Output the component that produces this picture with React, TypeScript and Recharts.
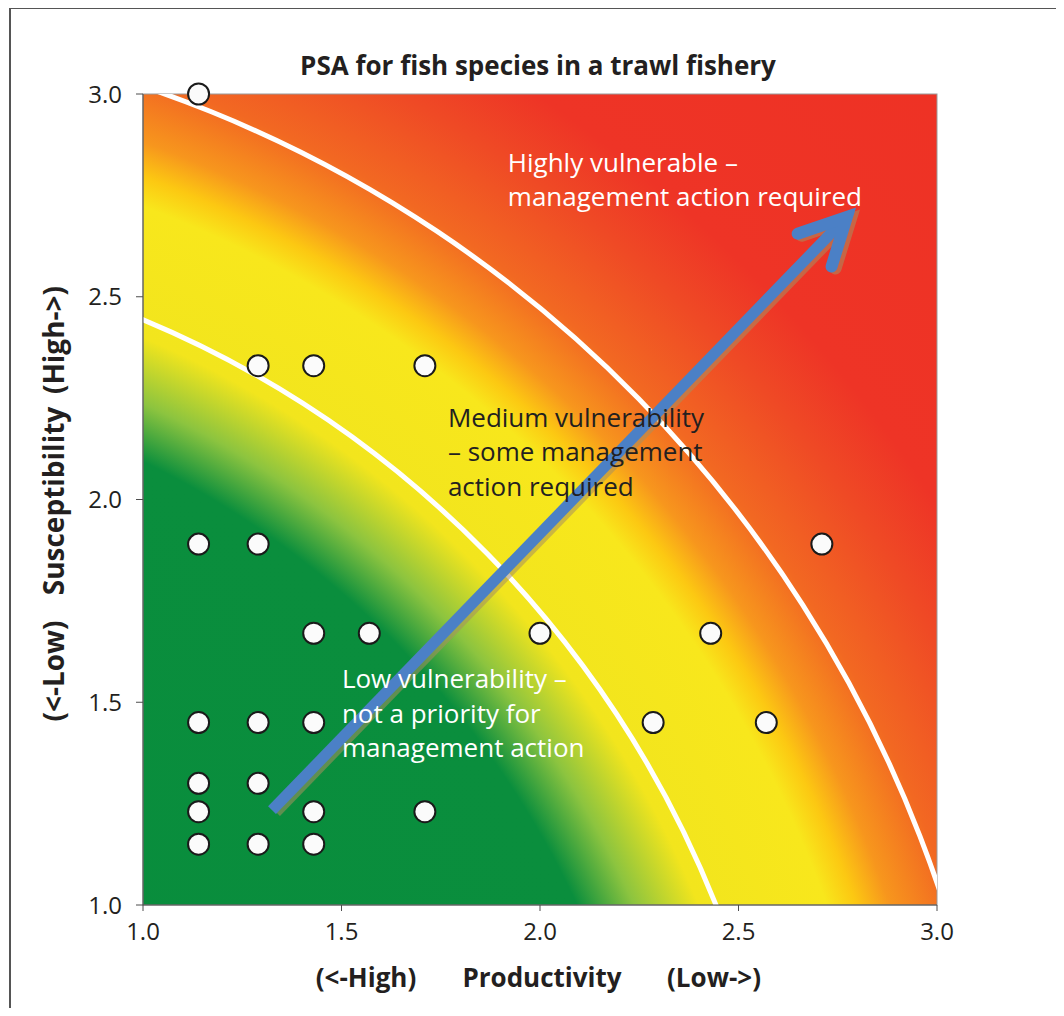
import React from "react";
import {
  ReferenceArea,
  ReferenceDot,
  ReferenceLine,
  Scatter,
  ScatterChart,
  XAxis,
  YAxis,
} from "recharts";

// species scores
const productivity = [
  1.14, 1.29, 1.43, 1.71, 1.14, 1.29, 2.71, 1.43, 1.57, 2.0, 2.43, 1.14,
  1.29, 1.43, 2.285, 2.57, 1.14, 1.29, 1.14, 1.43, 1.71, 1.14, 1.29, 1.43,
];
const susceptibility = [
  3.0, 2.33, 2.33, 2.33, 1.89, 1.89, 1.89, 1.67, 1.67, 1.67, 1.67, 1.45,
  1.45, 1.45, 1.45, 1.45, 1.3, 1.3, 1.23, 1.23, 1.23, 1.15, 1.15, 1.15,
];
const axisTicks = [1.0, 1.5, 2.0, 2.5, 3.0];
const domain: [number, number] = [1, 3];
// vulnerability = distance from the (0,0) origin; low/medium and medium/high cut-offs
const vulnerabilityThresholds = [2.64, 3.18];
// colour ramp by vulnerability score
const rampMax = 4.5;
const colourRamp = [
  { v: 0, c: "#078c3c" },
  { v: 2.32, c: "#0a8e3d" },
  { v: 2.45, c: "#8cc43f" },
  { v: 2.6, c: "#f2e51d" },
  { v: 2.9, c: "#f8e71c" },
  { v: 2.97, c: "#fcc812" },
  { v: 3.05, c: "#f7961d" },
  { v: 3.2, c: "#f26822" },
  { v: 3.42, c: "#ef4a25" },
  { v: 3.6, c: "#ee3426" },
  { v: 4.5, c: "#ee3124" },
];
// trend arrow start / end
const arrowFrom = { x: 1.325, y: 1.234 };
const arrowTo = { x: 2.773, y: 2.697 };

const zoneLabels = [
  { x: 1.919, y: 2.808, color: "#ffffff", lines: ["Highly vulnerable –", "management action required"] },
  { x: 1.768, y: 2.179, color: "#231f20", lines: ["Medium vulnerability", "– some management", "action required"] },
  { x: 1.501, y: 1.535, color: "#ffffff", lines: ["Low vulnerability –", "not a priority for", "management action"] },
];

const points = productivity.map((p, i) => ({ p, s: susceptibility[i] }));

const FONT = "'Open Sans', Lato, sans-serif";

function Background(props: any) {
  const { x, y, width, height } = props;
  const span = domain[1] - domain[0];
  const sx = width / span;
  const sy = height / span;
  // pixel position of score origin (0,0)
  const ox = x - domain[0] * sx;
  const oy = y + height + domain[0] * sy;
  return (
    <g>
      <defs>
        <radialGradient
          id="psaGrad"
          cx={-domain[0] / span}
          cy={1 + domain[0] / span}
          fx={-domain[0] / span}
          fy={1 + domain[0] / span}
          r={rampMax / span}
        >
          {colourRamp.map((s) => (
            <stop key={s.v} offset={s.v / rampMax} stopColor={s.c} />
          ))}
        </radialGradient>
        <clipPath id="psaClip">
          <rect x={x} y={y} width={width} height={height} />
        </clipPath>
      </defs>
      <rect x={x} y={y} width={width} height={height} fill="url(#psaGrad)" stroke="#9a9a9a" strokeWidth={1} />
      <g clipPath="url(#psaClip)">
        {vulnerabilityThresholds.map((t) => {
          const rx = t * sx;
          const ry = t * sy;
          return (
            <path
              key={t}
              d={`M ${ox} ${oy - ry} A ${rx} ${ry} 0 0 1 ${ox + rx} ${oy}`}
              fill="none"
              stroke="#ffffff"
              strokeWidth={5}
            />
          );
        })}
      </g>
    </g>
  );
}

function Arrow(props: any) {
  const { x1, y1, x2, y2 } = props;
  if (x1 == null || x2 == null) return null;
  const dx = x2 - x1;
  const dy = y2 - y1;
  const len = Math.hypot(dx, dy);
  const ux = dx / len;
  const uy = dy / len;
  const head = 52;
  const a = (27 * Math.PI) / 180;
  const bx = -ux;
  const by = -uy;
  const l1x = x2 + head * (bx * Math.cos(a) - by * Math.sin(a));
  const l1y = y2 + head * (bx * Math.sin(a) + by * Math.cos(a));
  const l2x = x2 + head * (bx * Math.cos(-a) - by * Math.sin(-a));
  const l2y = y2 + head * (bx * Math.sin(-a) + by * Math.cos(-a));
  const draw = (color: string, ox: number, oy: number, op: number) => (
    <g transform={`translate(${ox},${oy})`} opacity={op}>
      <line x1={x1} y1={y1} x2={x2 - ux * 6} y2={y2 - uy * 6} stroke={color} strokeWidth={11} />
      <polyline
        points={`${l1x},${l1y} ${x2},${y2} ${l2x},${l2y}`}
        fill="none"
        stroke={color}
        strokeWidth={12}
        strokeLinejoin="miter"
        strokeLinecap="round"
      />
    </g>
  );
  return (
    <g>
      {draw("#a89060", 4, 2, 0.55)}
      {draw("#4b80c6", 0, 0, 1)}
    </g>
  );
}

function ZoneText(label: (typeof zoneLabels)[number]) {
  return (props: any) => (
    <text x={props.cx} y={props.cy} fill={label.color} fontFamily={FONT} fontSize={26}>
      {label.lines.map((ln, i) => (
        <tspan key={i} x={props.cx} dy={i === 0 ? 0 : 34.5}>
          {ln}
        </tspan>
      ))}
    </text>
  );
}

function Dot(props: any) {
  return <circle cx={props.cx} cy={props.cy} r={10.5} fill="#fbfbfb" stroke="#1a1a1a" strokeWidth={2} />;
}

export default function App() {
  return (
    <div
      style={{
        position: "relative",
        width: 1064,
        height: 1016,
        margin: -8,
        overflow: "hidden",
        background: "#fff",
        fontFamily: FONT,
      }}
    >
      <div
        style={{
          position: "absolute",
          left: 9,
          top: 7,
          width: 1200,
          height: 1200,
          borderLeft: "2px solid #555",
          borderTop: "2px solid #555",
        }}
      />
      <div
        style={{
          position: "absolute",
          left: 0,
          top: 48,
          width: 1076,
          textAlign: "center",
          fontSize: 26,
          fontWeight: 700,
          lineHeight: "34px",
          color: "#231f20",
        }}
      >
        PSA for fish species in a trawl fishery
      </div>
      <div style={{ position: "absolute", left: 0, top: 0 }}>
        <ScatterChart width={1064} height={1016} margin={{ top: 94, right: 127, bottom: 51, left: 63 }}>
          <XAxis
            type="number"
            dataKey="p"
            domain={domain}
            ticks={axisTicks}
            tickFormatter={(v: number) => v.toFixed(1)}
            height={60}
            tickSize={6}
            tickMargin={12}
            stroke="#4d4d4d"
            tick={{ fill: "#231f20", fontSize: 24, fontFamily: FONT }}
            label={{
              content: (p: any) => {
                const vb = p.viewBox || {};
                const mid = vb.x + vb.width / 2;
                const by = vb.y + 82;
                const st = { fontFamily: FONT, fontSize: 26, fontWeight: 700, fill: "#231f20" } as any;
                return (
                  <g>
                    <text x={mid - 174} y={by} textAnchor="middle" {...st}>(&lt;-High)</text>
                    <text x={mid + 2} y={by} textAnchor="middle" {...st}>Productivity</text>
                    <text x={mid + 174} y={by} textAnchor="middle" {...st}>(Low-&gt;)</text>
                  </g>
                );
              },
            }}
          />
          <YAxis
            type="number"
            dataKey="s"
            domain={domain}
            ticks={axisTicks}
            tickFormatter={(v: number) => v.toFixed(1)}
            width={80}
            tickSize={7}
            tickMargin={14}
            stroke="#4d4d4d"
            tick={{ fill: "#231f20", fontSize: 24, fontFamily: FONT }}
            label={{
              content: (p: any) => {
                const vb = p.viewBox || {};
                const mid = vb.y + vb.height / 2;
                const lx = 64;
                const st = { fontFamily: FONT, fontSize: 28, fontWeight: 700, fill: "#231f20", textAnchor: "middle" } as any;
                const part = (txt: string, cy: number) => (
                  <text x={lx} y={cy} transform={`rotate(-90 ${lx} ${cy})`} {...st}>
                    {txt}
                  </text>
                );
                return (
                  <g>
                    {part("(High->)", mid - 159.5)}
                    {part("Susceptibility", mid + 1.5)}
                    {part("(<-Low)", mid + 171.5)}
                  </g>
                );
              },
            }}
          />
          <ReferenceArea x1={domain[0]} x2={domain[1]} y1={domain[0]} y2={domain[1]} shape={Background} />
          <Scatter data={points} shape={Dot} isAnimationActive={false} />
          <ReferenceLine segment={[arrowFrom, arrowTo]} shape={Arrow} ifOverflow="visible" />
          {zoneLabels.map((z, i) => (
            <ReferenceDot key={i} x={z.x} y={z.y} r={0} shape={ZoneText(z)} ifOverflow="visible" />
          ))}
        </ScatterChart>
      </div>
    </div>
  );
}
